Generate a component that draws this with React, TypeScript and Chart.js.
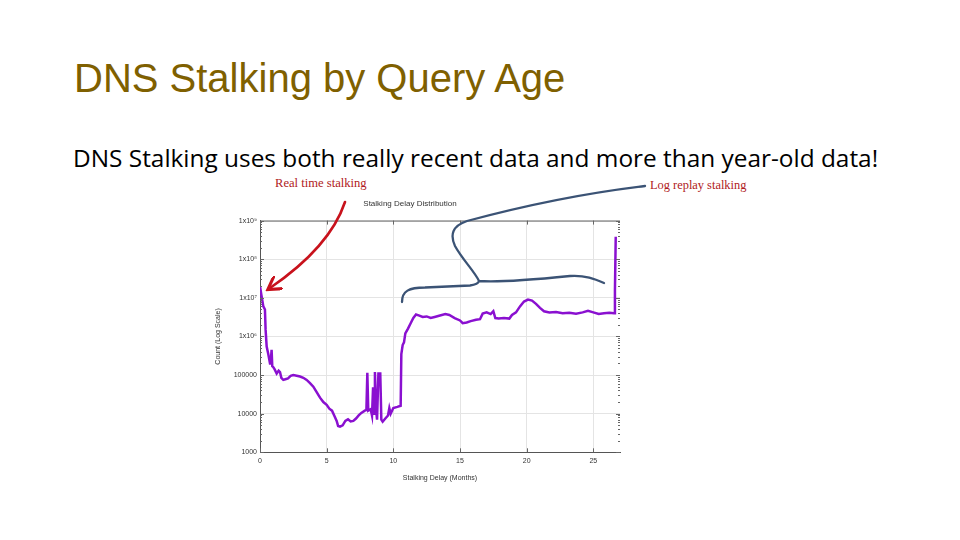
import React, { useEffect, useRef } from "react";
import { Chart, registerables } from "chart.js";

Chart.register(...registerables);

// ---- data ----
const months: number[] = [
  0.0, 0.1, 0.25, 0.37, 0.42, 0.5, 0.62, 0.75, 0.82, 0.87, 0.92, 1.0, 1.1, 1.25, 1.4, 1.5, 1.6, 1.75, 1.9,
  2.1, 2.3, 2.5, 2.75, 3.0, 3.25, 3.5, 3.75, 4.0, 4.25, 4.5, 4.75, 5.0, 5.2, 5.4, 5.6, 5.75, 5.86, 6.0,
  6.2, 6.4, 6.6, 6.8, 7.0, 7.2, 7.4, 7.6, 7.86, 7.98, 8.05, 8.12, 8.3, 8.4, 8.48, 8.55, 8.62, 8.7, 8.78,
  8.88, 8.96, 9.02, 9.1, 9.2, 9.4, 9.6, 9.7, 9.8, 10.0, 10.3, 10.55, 10.6, 10.7, 10.8, 10.9, 11.1, 11.3,
  11.5, 11.7, 11.9, 12.2, 12.5, 12.8, 13.1, 13.5, 13.9, 14.2, 14.6, 15.0, 15.2, 15.5, 15.8, 16.2, 16.5,
  16.7, 17.0, 17.3, 17.5, 17.65, 17.9, 18.3, 18.7, 18.9, 19.2, 19.5, 19.8, 20.1, 20.4, 20.7, 21.0, 21.3,
  21.7, 22.2, 22.7, 23.2, 23.7, 24.2, 24.6, 25.0, 25.4, 25.8, 26.2, 26.55, 26.62, 26.68,
];
const counts: number[] = [
  2.0e7, 1.2e7, 6e6, 5e6, 1.5e6, 5.5e5, 3.5e5, 2.0e5, 2.6e5, 4.5e5, 1.7e5, 1.6e5, 1.4e5, 1.1e5, 1.3e5, 1.2e5, 8.5e4, 7.5e4, 7.8e4,
  8.2e4, 9.5e4, 1.0e5, 9.6e4, 9.2e4, 8.5e4, 7.5e4, 6.2e4, 5.0e4, 3.6e4, 2.6e4, 2.0e4, 1.7e4, 1.35e4, 1.2e4, 8.5e3, 6.5e3, 4.8e3, 4.6e3,
  5.0e3, 6.5e3, 7.2e3, 6.3e3, 6.5e3, 7.5e3, 9.0e3, 1.05e4, 1.2e4, 1.25e4, 1.15e5, 1.2e4, 1.3e4, 9e3, 4.8e4, 1.0e4, 1.2e5, 1.3e4, 7e3,
  1.1e5, 1.1e5, 1.1e5, 7e3, 6.2e3, 7.5e3, 9e3, 1.4e4, 1.0e4, 1.4e4, 1.5e4, 1.6e4, 3.5e5, 6e5, 7e5, 1.2e6, 1.6e6, 2.2e6,
  3.0e6, 3.7e6, 3.5e6, 3.2e6, 3.3e6, 3.0e6, 3.2e6, 3.5e6, 3.8e6, 3.6e6, 3.0e6, 2.6e6, 2.2e6, 2.3e6, 2.5e6, 2.7e6, 2.8e6,
  3.9e6, 4.2e6, 3.8e6, 4.5e6, 3.0e6, 2.9e6, 3.0e6, 2.9e6, 3.6e6, 4.2e6, 6.0e6, 8.0e6, 9.0e6, 8.5e6, 7.0e6, 5.5e6, 4.5e6,
  4.2e6, 4.3e6, 4.0e6, 4.1e6, 3.9e6, 4.2e6, 4.6e6, 4.2e6, 3.8e6, 4.0e6, 4.1e6, 4.0e6, 1.5e7, 3.8e8,
];
const xTickValues: number[] = [0, 5, 10, 15, 20, 25];
const yDecadeExponents: number[] = [3, 4, 5, 6, 7, 8, 9];
const yTickLabels: string[] = ["1000", "10000", "100000", "1x10\u2076", "1x10\u2077", "1x10\u2078", "1x10\u2079"];

const slideTitle = "DNS Stalking by Query Age";
const slideSubtitle = "DNS Stalking uses both really recent data and more than year-old data!";
const chartTitle = "Stalking Delay Distribution";
const xTitle = "Stalking Delay (Months)";
const yTitle = "Count (Log Scale)";
const noteLeft = "Real time stalking";
const noteRight = "Log replay stalking";

const FONT = "'Liberation Sans', Arial, sans-serif";

function isDecade(v: number): boolean {
  const l = Math.log10(v);
  return Math.abs(l - Math.round(l)) < 1e-6;
}

const frameTicks = {
  id: "frameTicks",
  afterDraw(chart: any) {
    const { ctx, chartArea } = chart;
    const xs = chart.scales.x;
    const ys = chart.scales.y;
    const { left, right, top, bottom } = chartArea;
    ctx.save();
    ctx.strokeStyle = "#666";
    ctx.lineWidth = 1;
    ctx.beginPath();
    ctx.moveTo(left, top + 0.5);
    ctx.lineTo(right, top + 0.5);
    for (const v of xTickValues) {
      const px = Math.round(xs.getPixelForValue(v)) + 0.5;
      ctx.moveTo(px, bottom);
      ctx.lineTo(px, bottom - 4);
      ctx.moveTo(px, top);
      ctx.lineTo(px, top + 4);
    }
    for (const e of yDecadeExponents) {
      for (let k = 1; k <= 9; k++) {
        if (e === 9 && k > 1) break;
        const v = k * Math.pow(10, e);
        const py = Math.round(ys.getPixelForValue(v)) + 0.5;
        const len = k === 1 ? 4 : 2;
        ctx.moveTo(left, py);
        ctx.lineTo(left + len, py);
        ctx.moveTo(right, py);
        ctx.lineTo(right - len, py);
      }
    }
    ctx.stroke();
    ctx.restore();
  },
};

function DelayChart() {
  const ref = useRef<HTMLCanvasElement | null>(null);
  useEffect(() => {
    if (!ref.current) return;
    const chart = new Chart(ref.current, {
      type: "line",
      data: {
        datasets: [
          {
            data: months.map((m, i) => ({ x: m, y: counts[i] })),
            borderColor: "#8a10d0",
            borderWidth: 2.5,
            pointRadius: 0,
            tension: 0,
            fill: false,
          },
        ],
      },
      options: {
        animation: false,
        responsive: true,
        maintainAspectRatio: false,
        layout: { padding: { left: 0, right: 10, top: 0, bottom: 0 } },
        plugins: {
          legend: { display: false },
          tooltip: { enabled: false },
          title: {
            display: true,
            text: chartTitle,
            color: "#333",
            font: { family: FONT, size: 8, weight: "normal" },
            padding: { top: 9, bottom: 12 },
          },
        },
        scales: {
          x: {
            type: "linear",
            min: 0,
            max: 27,
            afterFit: (s: any) => {
              s.height = 37.7;
            },
            ticks: {
              stepSize: 5,
              includeBounds: false,
              color: "#333",
              padding: 5,
              font: { family: FONT, size: 7 },
            },
            grid: { color: "#e4e4e4", drawTicks: false },
            border: { color: "#555", width: 1 },
            title: {
              display: true,
              text: xTitle,
              color: "#333",
              font: { family: FONT, size: 7 },
              padding: { top: 0, bottom: 8 },
            },
          },
          y: {
            type: "logarithmic",
            min: 1000,
            max: 1e9,
            afterFit: (s: any) => {
              s.width = 60;
            },
            ticks: {
              autoSkip: false,
              color: "#333",
              padding: 3,
              font: { family: FONT, size: 7 },
              callback: (v: any) => {
                const n = Number(v);
                if (!isDecade(n)) return "";
                const idx = yDecadeExponents.indexOf(Math.round(Math.log10(n)));
                return idx >= 0 ? yTickLabels[idx] : "";
              },
            },
            grid: {
              drawTicks: false,
              color: (c: any) => (c.tick && isDecade(c.tick.value) ? "#e4e4e4" : "rgba(0,0,0,0)"),
            },
            border: { color: "#555", width: 1 },
            title: {
              display: true,
              text: yTitle,
              color: "#333",
              font: { family: FONT, size: 7 },
              padding: { top: 14, bottom: 0 },
            },
          },
        },
      },
      plugins: [frameTicks],
    } as any);
    return () => chart.destroy();
  }, []);
  return <canvas ref={ref} />;
}

export default function App() {
  return (
    <div
      style={{
        position: "fixed",
        left: 0,
        top: 0,
        width: 960,
        height: 540,
        background: "#fff",
        overflow: "hidden",
      }}
    >
      <div
        style={{
          position: "absolute",
          left: 74,
          top: 58,
          fontFamily: FONT,
          fontSize: 40,
          lineHeight: "40px",
          color: "#7f6000",
          whiteSpace: "nowrap",
        }}
      >
        {slideTitle}
      </div>
      <div
        style={{
          position: "absolute",
          left: 73,
          top: 146,
          fontFamily: "'Open Sans', sans-serif",
          fontSize: 24.4,
          lineHeight: "24.4px",
          color: "#000",
          whiteSpace: "nowrap",
        }}
      >
        {slideSubtitle}
      </div>
      <div style={{ position: "absolute", left: 200, top: 190, width: 430, height: 300 }}>
        <DelayChart />
      </div>
      <div
        style={{
          position: "absolute",
          left: 275,
          top: 176,
          fontFamily: "'Liberation Serif', serif",
          fontSize: 12.6,
          lineHeight: "14px",
          color: "#b01a22",
          whiteSpace: "nowrap",
        }}
      >
        {noteLeft}
      </div>
      <div
        style={{
          position: "absolute",
          left: 650,
          top: 178,
          fontFamily: "'Liberation Serif', serif",
          fontSize: 12.4,
          lineHeight: "14px",
          color: "#b01a22",
          whiteSpace: "nowrap",
        }}
      >
        {noteRight}
      </div>
      <svg
        width={960}
        height={540}
        style={{ position: "absolute", left: 0, top: 0, pointerEvents: "none" }}
      >
        <defs>
          <marker id="redHead" markerWidth="6" markerHeight="6" refX="4" refY="3" orient="auto" markerUnits="strokeWidth">
            <path d="M0,0 L5,3 L0,6" fill="none" stroke="#c8121c" strokeWidth="1.2" />
          </marker>
        </defs>
        <path
          d="M 345 202 C 335 232, 308 262, 270 288"
          fill="none"
          stroke="#c8121c"
          strokeWidth={2.6}
          strokeLinecap="round"
          markerEnd="url(#redHead)"
        />
        <path
          d="M 402 302 C 402 291, 409 287.5, 425 287.5 L 470 285.5 Q 478 284.5 479 281 M 479 281 C 500 283, 540 279, 570 276 C 585 275, 595 279, 604 283 M 479 281 C 475 272, 462 259, 455 246 C 450 235, 452 226, 467 221 Q 560 196, 645 186"
          fill="none"
          stroke="#3b5375"
          strokeWidth={2.3}
          strokeLinecap="round"
          strokeLinejoin="round"
        />
      </svg>
    </div>
  );
}
